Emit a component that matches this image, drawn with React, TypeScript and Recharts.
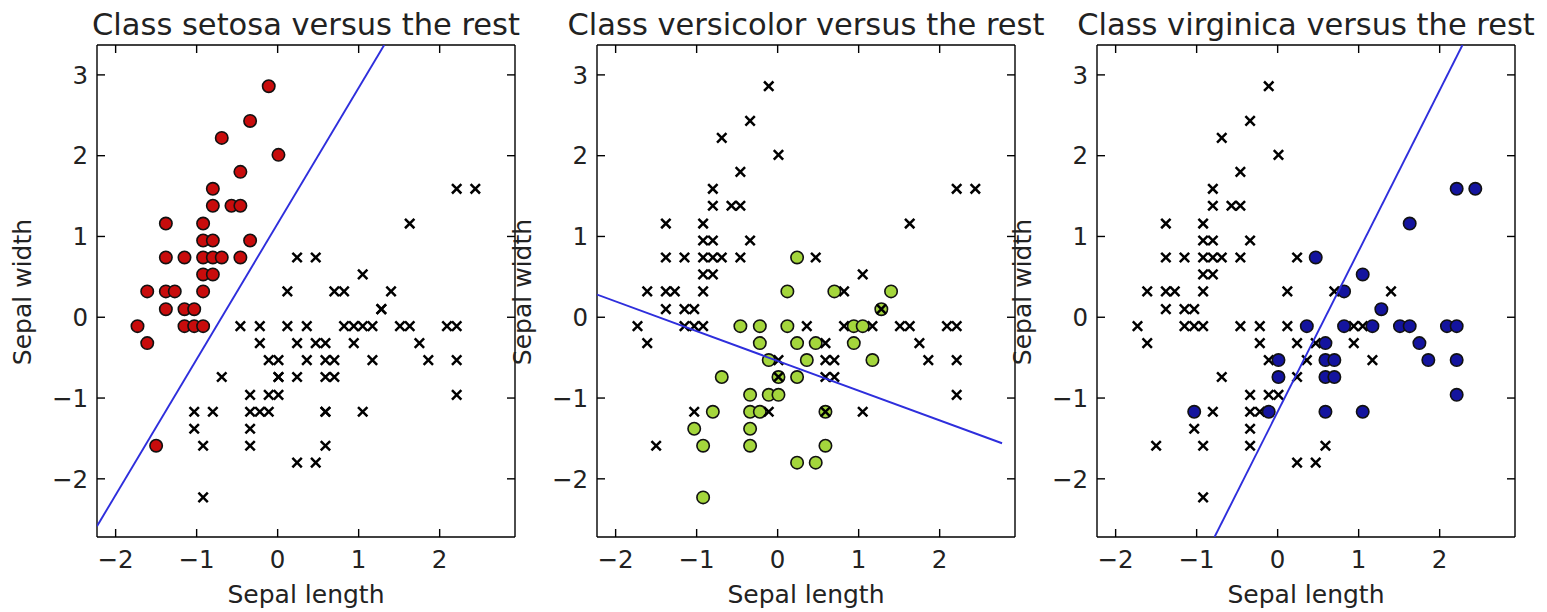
import { ScatterChart, Scatter, XAxis, YAxis, Label } from 'recharts';

// standardized sepal length / sepal width of the training samples
const setosaX = [-0.11, -0.34, -0.69, 0.01, -0.46, -0.8, -0.8, -0.57, -0.46, -1.38, -0.92, -0.92, -0.8, -0.34, -1.38, -1.15, -0.92, -0.8, -0.69, -0.46, -0.92, -0.8, -1.61, -1.38, -1.27, -0.92, -1.38, -1.15, -1.03, -1.73, -1.15, -1.03, -0.92, -1.61, -1.5];
const setosaY = [2.86, 2.43, 2.22, 2.01, 1.8, 1.59, 1.38, 1.38, 1.38, 1.16, 1.16, 0.95, 0.95, 0.95, 0.74, 0.74, 0.74, 0.74, 0.74, 0.74, 0.53, 0.53, 0.32, 0.32, 0.32, 0.32, 0.1, 0.1, 0.1, -0.11, -0.11, -0.11, -0.11, -0.32, -1.59];

const versicolorX = [0.24, 0.12, 0.7, 1.4, 1.28, -0.46, -0.22, 0.12, 0.94, 1.05, -0.22, 0.24, 0.47, 0.94, -0.11, 0.36, 1.17, -0.69, 0.01, 0.24, -0.34, -0.11, 0.01, -0.8, -0.34, -0.22, 0.59, -1.03, -0.34, -0.92, -0.34, 0.59, 0.24, 0.47, -0.92];
const versicolorY = [0.74, 0.32, 0.32, 0.32, 0.1, -0.11, -0.11, -0.11, -0.11, -0.11, -0.32, -0.32, -0.32, -0.32, -0.53, -0.53, -0.53, -0.74, -0.74, -0.74, -0.96, -0.96, -0.96, -1.17, -1.17, -1.17, -1.17, -1.38, -1.38, -1.59, -1.59, -1.59, -1.8, -1.8, -2.23];

const virginicaX = [2.21, 2.44, 1.63, 0.47, 1.05, 0.82, 1.28, 0.36, 0.82, 1.17, 1.51, 1.63, 2.09, 2.21, 0.59, 1.75, 0.01, 0.59, 0.7, 1.86, 2.21, 0.01, 0.59, 0.7, 2.21, -1.03, -0.11, 0.59, 1.05];
const virginicaY = [1.59, 1.59, 1.16, 0.74, 0.53, 0.32, 0.1, -0.11, -0.11, -0.11, -0.11, -0.11, -0.11, -0.11, -0.32, -0.32, -0.53, -0.53, -0.53, -0.53, -0.53, -0.74, -0.74, -0.74, -0.96, -1.17, -1.17, -1.17, -1.17];

const classNames = ['setosa', 'versicolor', 'virginica'];
const classColors = ['#c80c0c', '#a4d63c', '#14149e'];

// one-vs-rest decision boundaries: width = slope * length + intercept
const boundarySlope = [1.68, -0.368, 1.99];
const boundaryIntercept = [1.16, -0.54, -1.17];
const boundaryRange = [-2.23, 2.77];

const xTicks = [-2, -1, 0, 1, 2];
const yTicks = [-2, -1, 0, 1, 2, 3];
const xDomain: [number, number] = [-2.23, 2.93];
const yDomain: [number, number] = [-2.72, 3.37];

const FONT = 'DejaVu Sans';
const TEXT = '#222';

const zip = (xs: number[], ys: number[]) => xs.map((x, i) => ({ x, y: ys[i] }));
const classData = [zip(setosaX, setosaY), zip(versicolorX, versicolorY), zip(virginicaX, virginicaY)];

// clip the boundary to the visible y range
const boundary = (k: number) => {
  const m = boundarySlope[k];
  const b = boundaryIntercept[k];
  const xa = (yDomain[0] - b) / m;
  const xb = (yDomain[1] - b) / m;
  const lo = Math.max(boundaryRange[0], Math.min(xa, xb));
  const hi = Math.min(boundaryRange[1], Math.max(xa, xb));
  return [{ x: lo, y: m * lo + b }, { x: hi, y: m * hi + b }];
};

const fmt = (v: number) => String(v).replace('-', '\u2212');

const dot = (color: string) => (p: any) => (
  <circle cx={p.cx} cy={p.cy} r={6.2} fill={color} stroke="#111" strokeWidth={1.6} />
);

const cross = (p: any) => {
  const s = 4.7;
  return (
    <path
      d={`M${p.cx - s},${p.cy - s}L${p.cx + s},${p.cy + s}M${p.cx - s},${p.cy + s}L${p.cx + s},${p.cy - s}`}
      stroke="#000"
      strokeWidth={2.5}
      fill="none"
    />
  );
};

const YLabel = () => (
  <text x={31} y={292} transform="rotate(-90 31 292)" textAnchor="middle" fill={TEXT} fontSize={25} fontFamily={FONT}>
    Sepal width
  </text>
);

const axisStyle = { stroke: '#000', strokeWidth: 1.4 };
const tickStyle = { fill: TEXT, fontSize: 24.5, fontFamily: FONT };
const noTick = () => <g />;

const Panel = ({ k }: { k: number }) => (
  <ScatterChart
    width={547}
    height={612}
    margin={{ top: 44, right: 31, bottom: 0, left: 37 }}
    style={{ overflow: 'visible' }}
  >
    <XAxis
      type="number"
      dataKey="x"
      domain={xDomain}
      ticks={xTicks}
      allowDataOverflow
      height={75}
      tickSize={-8}
      tickMargin={22}
      tickFormatter={fmt}
      tick={tickStyle}
      axisLine={axisStyle}
      tickLine={axisStyle}
    >
      <Label value="Sepal length" position="insideBottom" offset={9} fill={TEXT} fontSize={25} fontFamily={FONT} />
    </XAxis>
    <XAxis
      xAxisId="top"
      orientation="top"
      type="number"
      dataKey="x"
      domain={xDomain}
      ticks={xTicks}
      allowDataOverflow
      height={1}
      tickSize={-8}
      tick={noTick}
      axisLine={axisStyle}
      tickLine={axisStyle}
    >
      <Label value={`Class ${classNames[k]} versus the rest`} position="top" offset={9} fill={TEXT} fontSize={30.5} fontFamily={FONT} />
    </XAxis>
    <YAxis
      type="number"
      dataKey="y"
      domain={yDomain}
      ticks={yTicks}
      allowDataOverflow
      width={60}
      tickSize={-8}
      tickMargin={17}
      tickFormatter={fmt}
      tick={tickStyle}
      axisLine={axisStyle}
      tickLine={axisStyle}
    >
      <Label content={YLabel} />
    </YAxis>
    <YAxis
      yAxisId="right"
      orientation="right"
      type="number"
      dataKey="y"
      domain={yDomain}
      ticks={yTicks}
      allowDataOverflow
      width={1}
      tickSize={-8}
      tick={noTick}
      axisLine={axisStyle}
      tickLine={axisStyle}
    />
    {classData.map((pts, j) => (
      <Scatter
        key={classNames[j]}
        data={pts}
        shape={j === k ? dot(classColors[j]) : cross}
        isAnimationActive={false}
      />
    ))}
    <Scatter
      data={boundary(k)}
      line={{ stroke: '#2e2edc', strokeWidth: 1.9 }}
      shape={noTick}
      isAnimationActive={false}
    />
    {/* binds the top and right frame axes */}
    <Scatter
      xAxisId="top"
      yAxisId="right"
      data={boundary(k)}
      shape={noTick}
      isAnimationActive={false}
    />
  </ScatterChart>
);

export default function App() {
  return (
    <div style={{ position: 'absolute', left: 0, top: 0, width: 1547, height: 612, background: '#fff' }}>
      {[0, 1, 2].map((k) => (
        <div key={k} style={{ position: 'absolute', left: k * 500, top: 0 }}>
          <Panel k={k} />
        </div>
      ))}
    </div>
  );
}
